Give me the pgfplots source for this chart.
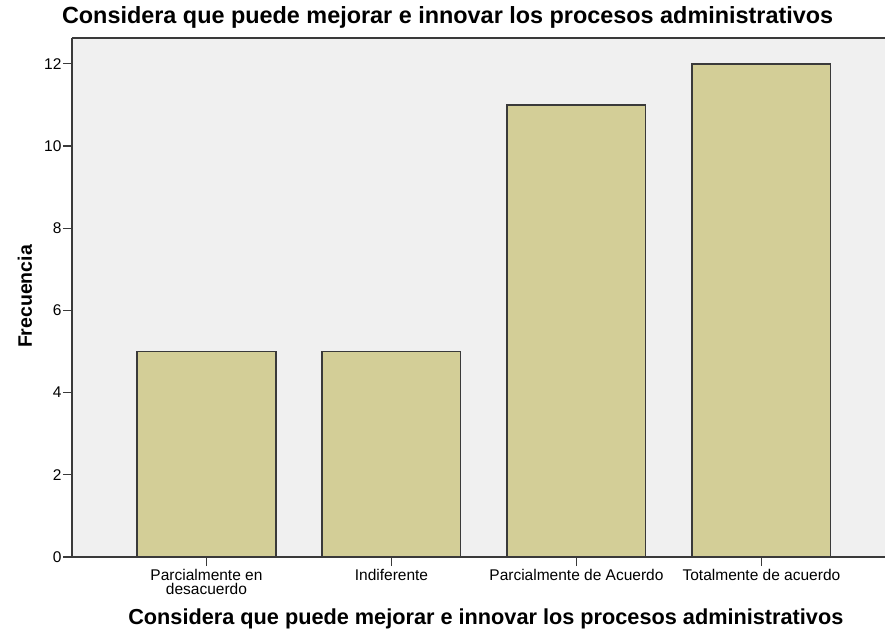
\documentclass[border=0pt]{standalone}
\usepackage{pgfplots}
\pgfplotsset{compat=1.18}
\usepackage{fontspec}
\setmainfont{Liberation Sans}
\definecolor{plotbg}{HTML}{F0F0F0}
\definecolor{barfill}{HTML}{D3CE97}
\definecolor{edge}{HTML}{3A3A3A}
\begin{document}
\begin{tikzpicture}[x=1pt,y=1pt]
\begin{axis}[
    at={(0,0)}, anchor=south west,
    scale only axis,
    width=813pt, height=519pt,
    ybar,
    bar width=0.75,
    xmin=-0.727, xmax=3.668,
    ymin=0, ymax=12.63,
    ytick={0,2,...,12},
    xtick={0,1,2,3},
    xticklabels={{Parcialmente en\\desacuerdo},Indiferente,Parcialmente de Acuerdo,Totalmente de acuerdo},
    axis background/.style={fill=plotbg},
    axis x line*=box, axis y line*=left,
    axis line style={edge, line width=1.3pt},
    tick align=outside, tick pos=left,
    major tick length=9pt,
    tick style={edge, line width=1.2pt},
    ticklabel style={font=\fontsize{15.5}{14}\selectfont, text=black},
    xticklabel style={align=center, yshift=0pt},
    yticklabel style={xshift=2pt},
    /pgf/number format/assume math mode=true,
    title={\bfseries Considera que puede mejorar e innovar los procesos administrativos},
    title style={font=\fontsize{23.4}{24}\selectfont, at={(axis description cs:0.462,1.028)}, anchor=center},
    xlabel={\bfseries Considera que puede mejorar e innovar los procesos administrativos},
    xlabel style={font=\fontsize{21.7}{22}\selectfont, at={(axis description cs:0.509,-0.120)}, anchor=center},
    ylabel={\bfseries Frecuencia},
    ylabel style={font=\fontsize{19.5}{20}\selectfont, at={(axis description cs:-0.058,0.502)}, anchor=center},
]
\addplot[fill=barfill, draw=edge, line width=1.3pt] coordinates {
    (0,5) (1,5) (2,11) (3,12)
};
\end{axis}
\pgfresetboundingbox
\path[use as bounding box] (-72pt,-72pt) rectangle (813pt,557pt);
\end{tikzpicture}
\end{document}
